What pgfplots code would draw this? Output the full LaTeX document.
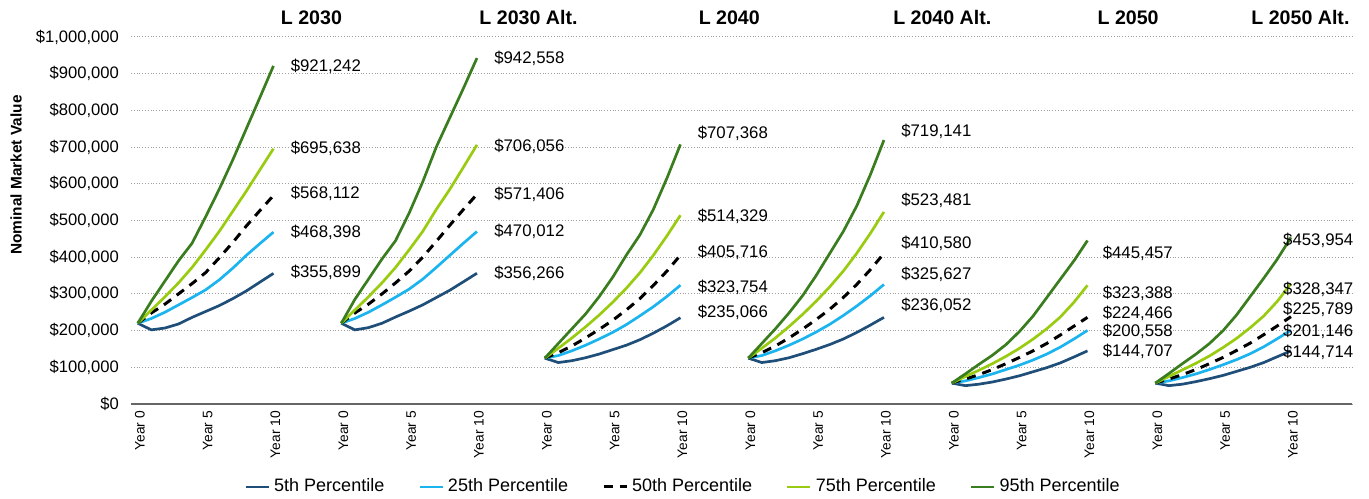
\documentclass[border=0pt]{standalone}
\usepackage{fontspec}
\setmainfont{Liberation Sans}
\usepackage{pgfplots}
\usepackage{pgfplotstable}
\pgfplotsset{compat=1.18}

\definecolor{pfive}{HTML}{1F4E79}
\definecolor{ptwentyfive}{HTML}{1CB4EE}
\definecolor{pseventyfive}{HTML}{99CC11}
\definecolor{pninetyfive}{HTML}{3A7D1E}

% six scenarios, 11 years each, nan rows break the lines between them
\pgfplotstableread{
x p5 p25 p50 p75 p95
0 220000 220000 220000 220000 220000
1 202000 233000 248000 256000 280000
2 207000 250000 272000 292000 335000
3 218000 270000 300000 330000 390000
4 236000 290000 328000 372000 438000
5 252000 311000 358000 420000 510000
6 268000 338000 398000 470000 585000
7 287000 370000 440000 525000 665000
8 308000 405000 485000 580000 750000
9 332000 437000 527000 638000 835000
10 355899 468398 568112 695638 921242
11 nan nan nan nan nan
15 220000 220000 220000 220000 220000
16 202000 233000 248000 256000 285000
17 208000 250000 272000 292000 340000
18 220000 270000 300000 330000 395000
19 237000 291000 330000 372000 445000
20 253000 313000 362000 420000 520000
21 270000 340000 400000 470000 605000
22 290000 372000 443000 530000 700000
23 310000 405000 487000 585000 780000
24 333000 438000 530000 645000 860000
25 356266 470012 571406 706056 942558
26 nan nan nan nan nan
30 125000 125000 125000 125000 125000
31 113000 132000 140000 152000 165000
32 118000 145000 158000 180000 205000
33 126000 160000 180000 210000 245000
34 136000 177000 203000 242000 292000
35 148000 195000 228000 277000 345000
36 160000 216000 256000 315000 405000
37 175000 240000 287000 357000 460000
38 193000 265000 323000 405000 530000
39 213000 293000 362000 458000 615000
40 235066 323754 405716 514329 707368
41 nan nan nan nan nan
45 125000 125000 125000 125000 125000
46 113000 132000 140000 152000 165000
47 118000 145000 158000 180000 205000
48 126000 160000 180000 211000 248000
49 137000 177000 204000 244000 295000
50 149000 196000 230000 280000 350000
51 162000 217000 258000 319000 410000
52 177000 241000 290000 362000 470000
53 195000 267000 326000 411000 540000
54 215000 295000 366000 465000 625000
55 236052 325627 410580 523481 719141
56 nan nan nan nan nan
60 57000 57000 57000 57000 57000
61 50000 63000 68000 75000 82000
62 54000 72000 80000 92000 108000
63 60000 82000 94000 110000 133000
64 68000 94000 110000 130000 162000
65 77000 106000 127000 152000 198000
66 88000 120000 145000 177000 240000
67 99000 136000 165000 205000 290000
68 112000 155000 188000 237000 340000
69 128000 177000 212000 277000 390000
70 144707 200558 236000 323388 445457
71 nan nan nan nan nan
75 57000 57000 57000 57000 57000
76 50000 63000 68000 75000 83000
77 54000 72000 80000 93000 110000
78 61000 82000 94000 111000 136000
79 69000 94000 110000 131000 165000
80 78000 107000 127000 154000 200000
81 89000 121000 146000 179000 243000
82 100000 137000 166000 208000 293000
83 113000 156000 189000 240000 343000
84 129000 178000 213000 280000 395000
85 144714 201146 238000 328347 453954
}\sims

\begin{document}
\begin{tikzpicture}
\begin{axis}[
  name=ax,
  scale only axis,
  width=610.5pt, height=183.5pt,
  xmin=-0.5, xmax=89.5,
  ymin=0, ymax=1000000,
  scaled y ticks=false,
  clip=false,
  unbounded coords=jump,
  axis x line*=bottom, axis y line*=left,
  x axis line style={gray!80!black, line width=0.8pt, -},
  y axis line style={draw=none},
  major tick length=0pt,
  xtick={0,5,...,85},
  xticklabels={Year 0,Year 5,Year 10,Year 0,Year 5,Year 10,Year 0,Year 5,Year 10,
               Year 0,Year 5,Year 10,Year 0,Year 5,Year 10,Year 0,Year 5,Year 10},
  xticklabel style={rotate=90, anchor=east, font=\fontsize{6.9}{8}\selectfont, yshift=-1pt},
  ytick={0,100000,...,1000000},
  yticklabels={{\$0},{\$100,000},{\$200,000},{\$300,000},{\$400,000},{\$500,000},
               {\$600,000},{\$700,000},{\$800,000},{\$900,000},{\$1,000,000}},
  yticklabel style={font=\fontsize{8.3}{10}\selectfont, xshift=-2.5pt},
  ymajorgrids,
  major grid style={densely dotted, gray!75, line width=0.5pt},
  ylabel={\textbf{Nominal Market Value}},
  every axis y label/.style={at={(axis description cs:-0.094,0.624)}, rotate=90,
    anchor=center, font=\fontsize{7.7}{9}\selectfont},
  legend columns=5,
  legend style={at={(0.453,-0.226)}, anchor=center, draw=none,
    font=\fontsize{9}{10}\selectfont,
    /tikz/every even column/.append style={column sep=15pt}},
  legend image code/.code={\draw[#1] (0pt,0pt) -- (11.5pt,0pt);},
]
\addplot[pfive, line width=1.35pt] table[x=x, y=p5] {\sims};
\addplot[ptwentyfive, line width=1.35pt] table[x=x, y=p25] {\sims};
\addplot[black, line width=1.5pt, dash pattern=on 4.5pt off 3.5pt] table[x=x, y=p50] {\sims};
\addplot[pseventyfive, line width=1.35pt] table[x=x, y=p75] {\sims};
\addplot[pninetyfive, line width=1.35pt] table[x=x, y=p95] {\sims};
\legend{5th Percentile,25th Percentile,50th Percentile,75th Percentile,95th Percentile}

% scenario titles
\begin{scope}[every node/.style={font=\bfseries\fontsize{9.8}{11}\selectfont}]
\node at (axis cs:12.8,1052000) {L 2030};
\node at (axis cs:28.8,1052000) {L 2030 Alt.};
\node at (axis cs:43.6,1052000) {L 2040};
\node at (axis cs:59.3,1052000) {L 2040 Alt.};
\node at (axis cs:73.0,1052000) {L 2050};
\node at (axis cs:85.7,1052000) {L 2050 Alt.};
\end{scope}

% end-of-horizon value labels
\begin{scope}[every node/.style={anchor=west, inner sep=0pt, font=\fontsize{8.4}{10}\selectfont}]
\node at (axis cs:11.25,921000) {\$921,242};
\node at (axis cs:11.25,697000) {\$695,638};
\node at (axis cs:11.25,575000) {\$568,112};
\node at (axis cs:11.25,469000) {\$468,398};
\node at (axis cs:11.25,360000) {\$355,899};
\node at (axis cs:26.25,943000) {\$942,558};
\node at (axis cs:26.25,703000) {\$706,056};
\node at (axis cs:26.25,572000) {\$571,406};
\node at (axis cs:26.25,471000) {\$470,012};
\node at (axis cs:26.25,357000) {\$356,266};
\node at (axis cs:41.25,738000) {\$707,368};
\node at (axis cs:41.25,510000) {\$514,329};
\node at (axis cs:41.25,414000) {\$405,716};
\node at (axis cs:41.25,319000) {\$323,754};
\node at (axis cs:41.25,251000) {\$235,066};
\node at (axis cs:56.25,744000) {\$719,141};
\node at (axis cs:56.25,556000) {\$523,481};
\node at (axis cs:56.25,439000) {\$410,580};
\node at (axis cs:56.25,354000) {\$325,627};
\node at (axis cs:56.25,270000) {\$236,052};
\node at (axis cs:71.1,411000) {\$445,457};
\node at (axis cs:71.1,302000) {\$323,388};
\node at (axis cs:71.1,248000) {\$224,466};
\node at (axis cs:71.1,199000) {\$200,558};
\node at (axis cs:71.1,144000) {\$144,707};
\node at (axis cs:84.4,447000) {\$453,954};
\node at (axis cs:84.4,313000) {\$328,347};
\node at (axis cs:84.4,259000) {\$225,789};
\node at (axis cs:84.4,199000) {\$201,146};
\node at (axis cs:84.4,142000) {\$144,714};
\end{scope}
\end{axis}
\pgfresetboundingbox
\path[use as bounding box] ([shift={(-65.5pt,-47pt)}]ax.south west) rectangle ([shift={(8.5pt,18.5pt)}]ax.north east);
\end{tikzpicture}
\end{document}
